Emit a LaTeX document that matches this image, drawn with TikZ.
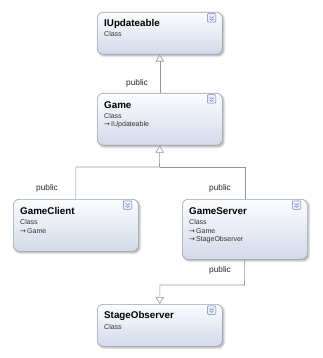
\documentclass[tikz,border=0pt]{standalone}
\usepackage{fontspec}
\setmainfont{Liberation Sans}
\newfontfamily\symfont{DejaVu Sans}
\usetikzlibrary{arrows.meta,shadows.blur}

\definecolor{boxline}{RGB}{158,162,172}
\definecolor{boxtop}{RGB}{252,253,255}
\definecolor{boxbot}{RGB}{210,217,233}
\definecolor{wire}{RGB}{150,150,150}
\definecolor{iconline}{RGB}{110,130,185}
\definecolor{iconfill}{RGB}{232,238,252}

\tikzset{
  classbox/.style={draw=boxline, line width=0.6pt, rounded corners=6pt,
    top color=boxtop, bottom color=boxbot, minimum width=125pt,
    anchor=north west, inner sep=0pt,
    blur shadow={shadow xshift=1.5pt, shadow yshift=-1.5pt,
      shadow blur steps=5, shadow opacity=35}},
  classtitle/.style={anchor=west, inner sep=0pt, text=black,
    font=\bfseries\fontsize{9.8}{11}\selectfont},
  classsub/.style={anchor=west, inner sep=0pt, text=black!80,
    font=\fontsize{7}{8}\selectfont},
  wirestyle/.style={draw=wire, line width=0.6pt},
  inherit/.style={wirestyle, -{Triangle[open, length=7pt, width=8.5pt, fill=white]}},
  vislabel/.style={inner sep=0pt, text=black!85, font=\fontsize{8.3}{9}\selectfont},
  collapse/.style={draw=iconline, fill=iconfill, line width=0.5pt,
    rounded corners=1pt, minimum size=8.5pt, inner sep=0pt}
}

% base-type arrow in front of an inherited type name
\newcommand{\basearrow}{{\symfont\fontsize{7}{8}\selectfont →}\,}

% collapse button with a double chevron, at the top right of a class box
\newcommand{\collapsebtn}[1]{%
  \node[collapse] (#1-btn) at ([xshift=-11pt,yshift=-6pt]#1.north east) {};
  \foreach \dy in {1.4,-0.9}{%
    \draw[iconline, line width=0.55pt]
      ([xshift=-2pt,yshift=\dy pt]#1-btn.center) --
      ([yshift=\dy pt - 1.4pt]#1-btn.center) --
      ([xshift=2pt,yshift=\dy pt]#1-btn.center);
  }%
}

\begin{document}
\begin{tikzpicture}[x=1pt, y=-1pt]
  \useasboundingbox (0,0) rectangle (323,358);

  % class boxes
  \node[classbox, minimum height=42pt] (iu)       at (97,12)  {};
  \node[classbox, minimum height=52pt] (game)     at (97,93)  {};
  \node[classbox, minimum height=52pt] (client)   at (13,199) {};
  \node[classbox, minimum height=60pt] (server)   at (182,199) {};
  \node[classbox, minimum height=42pt] (observer) at (97,304) {};

  % IUpdateable
  \node[classtitle] (iu-t) at ([xshift=7pt,yshift=-12pt]iu.north west) {IUpdateable};
  \node[classsub]   (iu-k) at ([xshift=7pt,yshift=-22.5pt]iu.north west) {Class};
  \collapsebtn{iu}

  % Game
  \node[classtitle] (game-t) at ([xshift=7pt,yshift=-12pt]game.north west) {Game};
  \node[classsub]   (game-k) at ([xshift=7pt,yshift=-22.5pt]game.north west) {Class};
  \node[classsub]   (game-b) at ([xshift=7pt,yshift=-32pt]game.north west) {\basearrow IUpdateable};
  \collapsebtn{game}

  % GameClient
  \node[classtitle] (client-t) at ([xshift=7pt,yshift=-12pt]client.north west) {GameClient};
  \node[classsub]   (client-k) at ([xshift=7pt,yshift=-22.5pt]client.north west) {Class};
  \node[classsub]   (client-b) at ([xshift=7pt,yshift=-32pt]client.north west) {\basearrow Game};
  \collapsebtn{client}

  % GameServer
  \node[classtitle] (server-t)  at ([xshift=7pt,yshift=-12pt]server.north west) {GameServer};
  \node[classsub]   (server-k)  at ([xshift=7pt,yshift=-22.5pt]server.north west) {Class};
  \node[classsub]   (server-b1) at ([xshift=7pt,yshift=-32pt]server.north west) {\basearrow Game};
  \node[classsub]   (server-b2) at ([xshift=7pt,yshift=-41pt]server.north west) {\basearrow StageObserver};
  \collapsebtn{server}

  % StageObserver
  \node[classtitle] (observer-t) at ([xshift=7pt,yshift=-12pt]observer.north west) {StageObserver};
  \node[classsub]   (observer-k) at ([xshift=7pt,yshift=-22.5pt]observer.north west) {Class};
  \collapsebtn{observer}

  % inheritance connectors
  \coordinate (split) at (159.5,167);
  \coordinate (bend)  at (244.5,285);

  \draw[inherit] (game.north) -- (iu.south);
  \draw[inherit] (client.north) |- (split) -- (game.south);
  \draw[wirestyle] (server.north) |- (split);
  \draw[inherit] (server.south) -- (bend) -| (observer.north);

  % visibility labels
  \node[vislabel] (vis-game)   at (137,83)  {public};
  \node[vislabel] (vis-client) at (47,188)  {public};
  \node[vislabel] (vis-server) at (220,188) {public};
  \node[vislabel] (vis-stage)  at (220,270) {public};
\end{tikzpicture}
\end{document}
